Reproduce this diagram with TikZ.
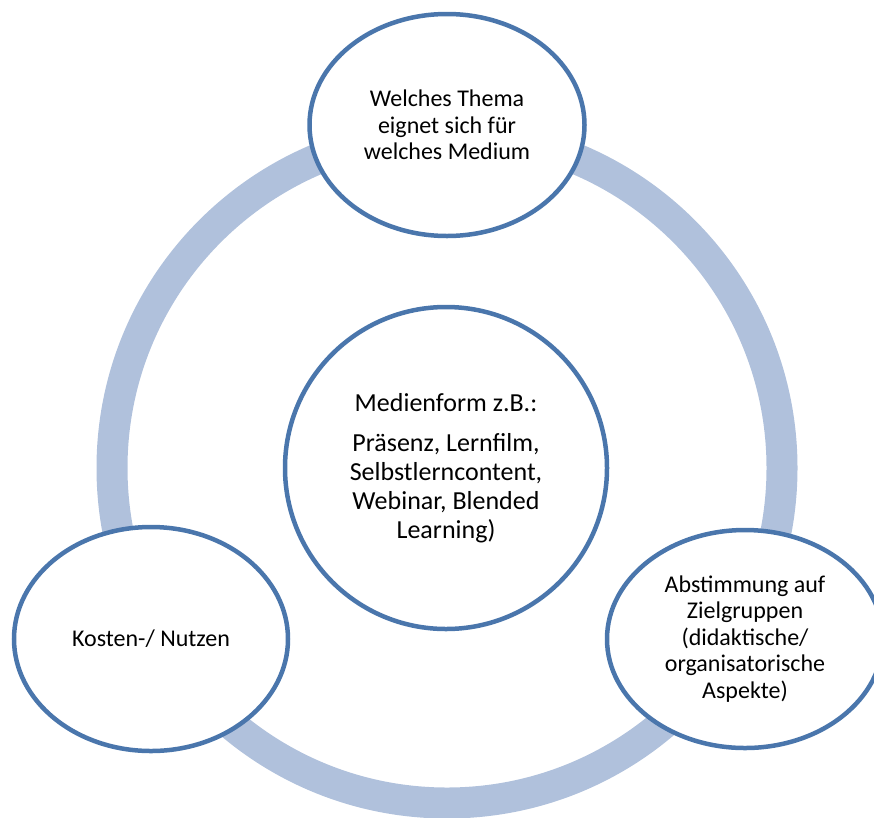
\documentclass[tikz,border=0pt]{standalone}
\usepackage{fontspec}
\setmainfont{Carlito}
\usetikzlibrary{shapes.geometric}
\definecolor{ringblue}{RGB}{176,193,220}
\definecolor{rimblue}{RGB}{74,118,172}
\tikzset{
  bubble/.style={ellipse, draw=rimblue, line width=4.5pt, fill=white, inner sep=0pt,
    align=center, font=\fontsize{24}{26.5}\selectfont},
  cycle ring/.style={draw=ringblue, line width=31pt}
}
\begin{document}
\begin{tikzpicture}[x=1pt, y=-1pt]
        \useasboundingbox (0,0) rectangle (874,817);
        \draw [cycle ring] (447,468) circle (335pt);
        \node [bubble, minimum width=322pt, minimum height=322pt,
          font=\fontsize{26}{29}\selectfont] (medien) at (446,468)
          {Medienform z.B.:\\[11pt] Präsenz, Lernfilm,\\ Selbstlerncontent,\\ Webinar, Blended\\ Learning)};
        \node [bubble, minimum width=275pt, minimum height=222pt] (thema) at (447,125)
          {Welches Thema\\ eignet sich für\\ welches Medium};
        \node [bubble, minimum width=274pt, minimum height=224pt] (kosten) at (151,639)
          {Kosten-/ Nutzen};
        \node [bubble, minimum width=276pt, minimum height=218pt] (zielgruppen) at (745,639)
          {Abstimmung auf\\ Zielgruppen\\ (didaktische/\\ organisatorische\\ Aspekte)};
\end{tikzpicture}
\end{document}
